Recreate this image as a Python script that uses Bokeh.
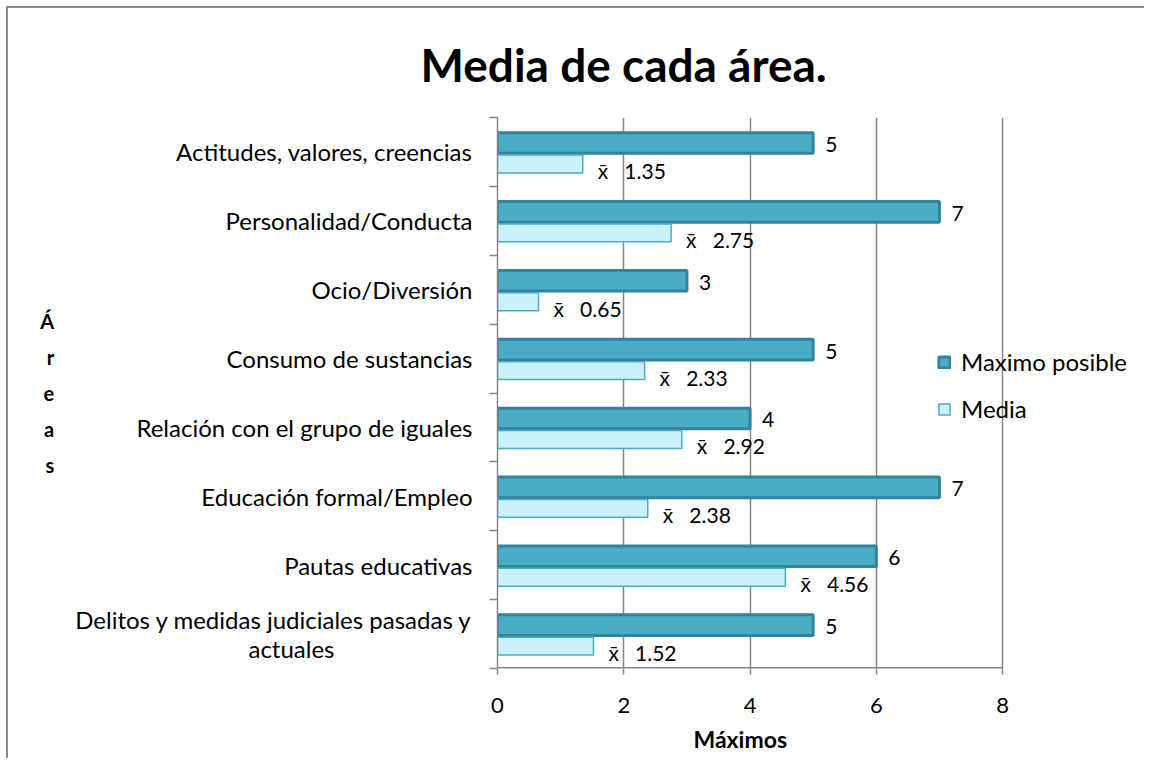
from bokeh.plotting import figure
from bokeh.models import Range1d, FixedTicker, ColumnDataSource, Title
from bokeh.transform import dodge
from bokeh.core.properties import value
from bokeh.embed import file_html
from bokeh.resources import INLINE

# ---- data (bottom to top, as in the picture) ----
categories = [
    "Delitos y medidas judiciales pasadas y\nactuales\u2003\u2003\u2003\u2003\u2003\u2003\u2003\u2002",
    "Pautas educativas",
    "Educación formal/Empleo",
    "Relación con el grupo de iguales",
    "Consumo de sustancias",
    "Ocio/Diversión",
    "Personalidad/Conducta",
    "Actitudes, valores, creencias",
]
maximo = [5, 6, 7, 4, 5, 3, 7, 5]
media = [1.52, 4.56, 2.38, 2.92, 2.33, 0.65, 2.75, 1.35]
x_ticks = [0, 2, 4, 6, 8]

FONT = "Lato"
pos = [i + 0.5 for i in range(len(categories))]
src = ColumnDataSource(dict(
    y=pos,
    maximo=maximo,
    media=media,
    max_lbl=[f"{v}" for v in maximo],
    med_lbl=[f"x\u0304\u00a0\u00a0\u00a0{v:.2f}" for v in media],
))

p = figure(width=1138, height=752, output_backend="svg", toolbar_location=None,
           x_range=Range1d(0, 10.28), y_range=Range1d(0, len(categories)),
           min_border_left=489, min_border_right=0, min_border_top=108, min_border_bottom=92)
p.styles = {"margin-left": "6px", "margin-top": "6px",
            "border-left": "2px solid #8a8a8a", "border-top": "2px solid #8a8a8a"}
p.outline_line_color = None
p.background_fill_color = "white"
p.border_fill_color = "white"

# title
p.title.text = "Media de cada área."
p.title.text_font = FONT
p.title.text_font_size = "46px"
p.title.text_font_style = "bold"
p.title.text_color = "black"
p.title.align = "left"
p.title.offset = -77
p.title.standoff = 52

# bars
p.hbar(y=dodge("y", 0.13), right="maximo", left=0, height=0.3, source=src,
       fill_color="#4BACC6", line_color="#31849B", line_width=3,
       legend_label="Maximo posible")
p.hbar(y=dodge("y", -0.175), right="media", left=0, height=0.26, source=src,
       fill_color="#CBF1FA", line_color="#4BACC6", line_width=1.5,
       legend_label="Media")

# value labels
p.text(x="maximo", y=dodge("y", 0.13), text="max_lbl", source=src,
       x_offset=12, y_offset=1.5, text_baseline="alphabetic", text_align="left",
       text_font=value(FONT), text_font_size="21px", text_color="black")
p.text(x="media", y=dodge("y", -0.175), text="med_lbl", source=src,
       x_offset=15, y_offset=6.5, text_baseline="alphabetic", text_align="left",
       text_font=value(FONT), text_font_size="21px", text_color="black")

# x axis line only from 0 to the last tick
p.segment(x0=[x_ticks[0]], y0=[0], x1=[x_ticks[-1]], y1=[0],
          line_color="#868686", line_width=3)

xa = p.xaxis[0]
xa.ticker = FixedTicker(ticks=x_ticks)
xa.minor_tick_line_color = None
xa.major_tick_in = 0
xa.major_tick_out = 6
xa.axis_line_color = None
xa.major_tick_line_color = "#868686"
xa.major_tick_line_width = 1.5
xa.major_label_text_font = FONT
xa.major_label_text_font_size = "22px"
xa.major_label_text_color = "black"
xa.major_label_standoff = 23

# x axis title, centred under the 0..8 part of the axis
p.add_layout(Title(text="Máximos", align="left", offset=196, standoff=15,
                   text_font=FONT, text_font_size="23px", text_font_style="bold",
                   text_color="black"), "below")

# y axis (labels at category centres, ticks at category boundaries)
ya = p.yaxis[0]
ya.ticker = FixedTicker(ticks=pos, minor_ticks=list(range(len(categories) + 1)))
ya.major_label_overrides = {pv: c for pv, c in zip(pos, categories)}
ya.major_tick_in = 0
ya.major_tick_out = 0
ya.major_tick_line_color = None
ya.minor_tick_in = 0
ya.minor_tick_out = 8
ya.minor_tick_line_color = "#868686"
ya.minor_tick_line_width = 1.5
ya.axis_line_color = "#868686"
ya.axis_line_width = 1.5
ya.major_label_text_font = FONT
ya.major_label_text_font_size = "24px"
ya.major_label_text_color = "black"
ya.major_label_text_line_height = 1.0
ya.major_label_standoff = 17
ya.axis_label = "Á\nr\ne\na\ns"
ya.axis_label_text_font = FONT
ya.axis_label_text_font_size = "20px"
ya.axis_label_text_font_style = "bold"
ya.axis_label_text_color = "black"
ya.axis_label_text_line_height = 1.5
ya.axis_label_standoff = 18
try:
    ya.axis_label_orientation = "horizontal"
except Exception:
    pass

# grid
p.xgrid.grid_line_color = "#868686"
p.xgrid.grid_line_width = 1.5
p.ygrid.grid_line_color = None

# legend
lg = p.legend[0]
lg.location = (440, 245)
lg.padding = 0
lg.margin = 0
lg.border_line_color = None
lg.background_fill_alpha = 0
lg.glyph_width = 14
lg.glyph_height = 14
lg.label_standoff = 10
lg.label_height = 24
lg.spacing = 18
lg.label_text_font = FONT
lg.label_text_font_size = "24px"
lg.label_text_color = "black"

open("out.html", "w").write(file_html(p, INLINE))
